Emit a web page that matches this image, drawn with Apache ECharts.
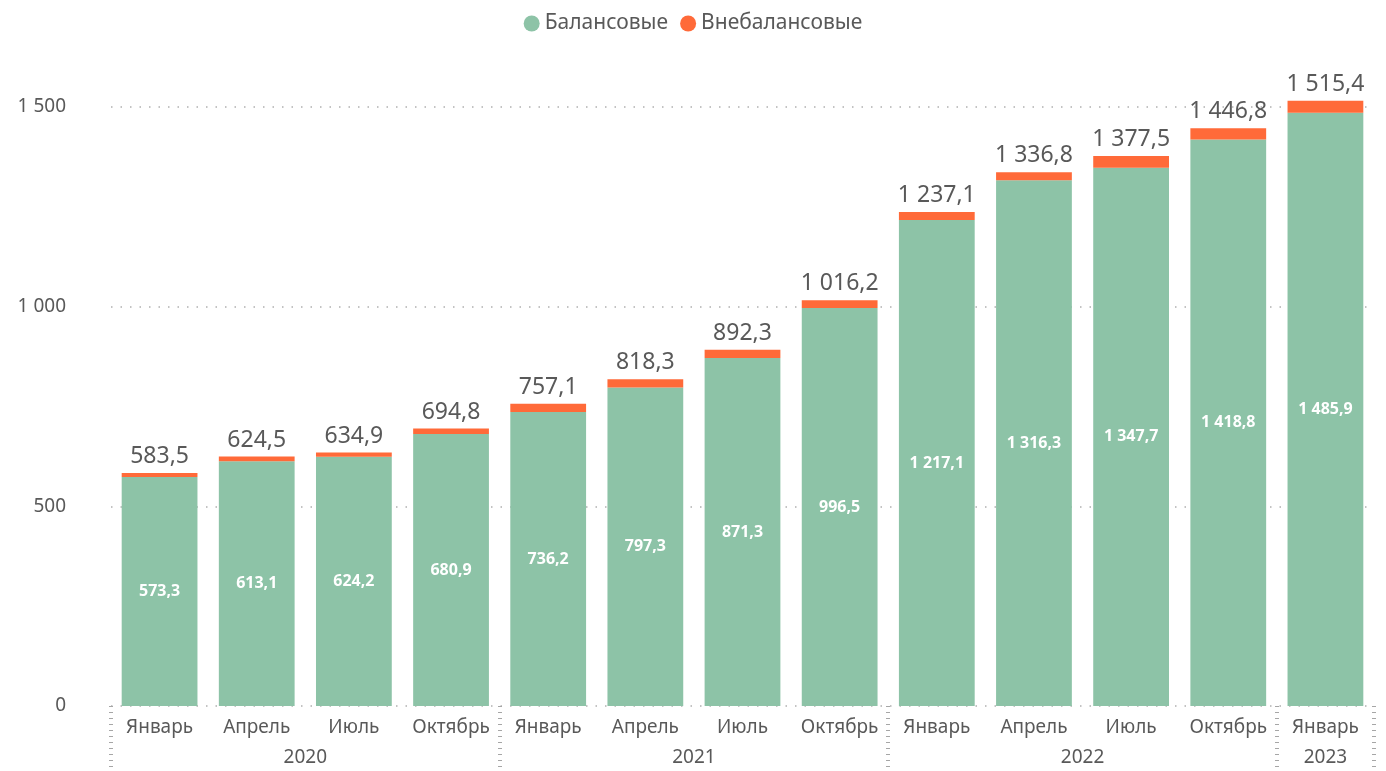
<!DOCTYPE html>
<html>
<head>
<meta charset="utf-8">
<script src="https://cdn.jsdelivr.net/npm/echarts@6/dist/echarts.min.js"></script>
<style>
  html, body { margin: 0; padding: 0; background: #fff; }
  #chart { width: 1386px; height: 771px; }
</style>
</head>
<body>
<div id="chart"></div>
<script>
// Месяцы по кварталам, 2020 – январь 2023
const months = ['Январь', 'Апрель', 'Июль', 'Октябрь', 'Январь', 'Апрель', 'Июль', 'Октябрь',
                'Январь', 'Апрель', 'Июль', 'Октябрь', 'Январь'];
const years = ['2020', '2021', '2022', '2023'];
// балансовые
const balance = [573.3, 613.1, 624.2, 680.9, 736.2, 797.3, 871.3, 996.5, 1217.1, 1316.3, 1347.7, 1418.8, 1485.9];
// внебалансовые
const offBalance = [10.2, 11.4, 10.7, 13.9, 20.9, 21.0, 21.0, 19.7, 20.0, 20.5, 29.8, 28.0, 29.5];
// итог (подписи над столбцами)
const totals = [583.5, 624.5, 634.9, 694.8, 757.1, 818.3, 892.3, 1016.2, 1237.1, 1336.8, 1377.5, 1446.8, 1515.4];
const yTicks = [0, 500, 1000, 1500];

const FONT = "'Segoe UI', 'Noto Sans', sans-serif";
const TEXT = '#595959';

function fmt(v, digits) {
    const s = Number(v).toFixed(digits);
    const parts = s.split('.');
    const intPart = parts[0].replace(/\B(?=(\d{3})+(?!\d))/g, ' ');
    return parts.length > 1 ? intPart + ',' + parts[1] : intPart;
}

// позиции подписей годов на вспомогательной оси (в половинах категорий)
const yearPos = { 4: years[0], 12: years[1], 20: years[2], 25: years[3] };

const chart = echarts.init(document.getElementById('chart'));

const option = {
    textStyle: { fontFamily: FONT },
    legend: {
        top: 8,
        left: 'center',
        icon: 'circle',
        itemWidth: 16,
        itemHeight: 16,
        itemGap: 12,
        itemStyle: { borderWidth: 0 },
        textStyle: { fontSize: 21, color: TEXT, fontFamily: FONT },
        data: ['Балансовые', 'Внебалансовые']
    },
    grid: { left: 111, right: 12, top: 107, bottom: 65 },
    xAxis: [
        {
            type: 'category',
            data: months,
            axisLine: { show: false },
            axisTick: {
                show: true,
                interval: (i) => i % 4 === 0,
                length: 64,
                lineStyle: { color: '#a6a6a6', width: 4, type: [1, 5] }
            },
            axisLabel: { interval: 0, margin: 12, fontSize: 19, color: TEXT, fontFamily: FONT }
        },
        {
            type: 'value',
            min: 0,
            max: 26,
            interval: 1,
            position: 'bottom',
            offset: 30,
            axisLine: { show: false },
            axisTick: { show: false },
            splitLine: { show: false },
            axisLabel: {
                margin: 12,
                fontSize: 19,
                color: TEXT,
                fontFamily: FONT,
                formatter: (v) => yearPos[v] || ''
            }
        }
    ],
    yAxis: {
        type: 'value',
        min: yTicks[0],
        max: yTicks[yTicks.length - 1],
        interval: 500,
        axisLine: { show: false },
        axisTick: { show: false },
        axisLabel: { margin: 45, fontSize: 19, color: TEXT, fontFamily: FONT, formatter: (v) => fmt(v, 0) },
        splitLine: { lineStyle: { color: '#b0b0b0', type: [1.5, 8], width: 1.5 } }
    },
    series: [
        {
            name: 'Балансовые',
            type: 'bar',
            stack: 'total',
            clip: false,
            data: balance,
            barCategoryGap: '22%',
            itemStyle: { color: '#8dc3a7' },
            label: {
                show: true,
                position: 'inside',
                color: '#ffffff',
                fontSize: 16,
                fontWeight: 'bold',
                fontFamily: FONT,
                formatter: (p) => fmt(p.value, 1)
            }
        },
        {
            name: 'Внебалансовые',
            type: 'bar',
            stack: 'total',
            clip: false,
            data: offBalance,
            itemStyle: { color: '#ff6a39' },
            label: {
                show: true,
                position: 'top',
                distance: 5,
                color: TEXT,
                fontSize: 23,
                fontFamily: FONT,
                formatter: (p) => fmt(totals[p.dataIndex], 1)
            }
        }
    ]
};

chart.setOption(option);
</script>
</body>
</html>
